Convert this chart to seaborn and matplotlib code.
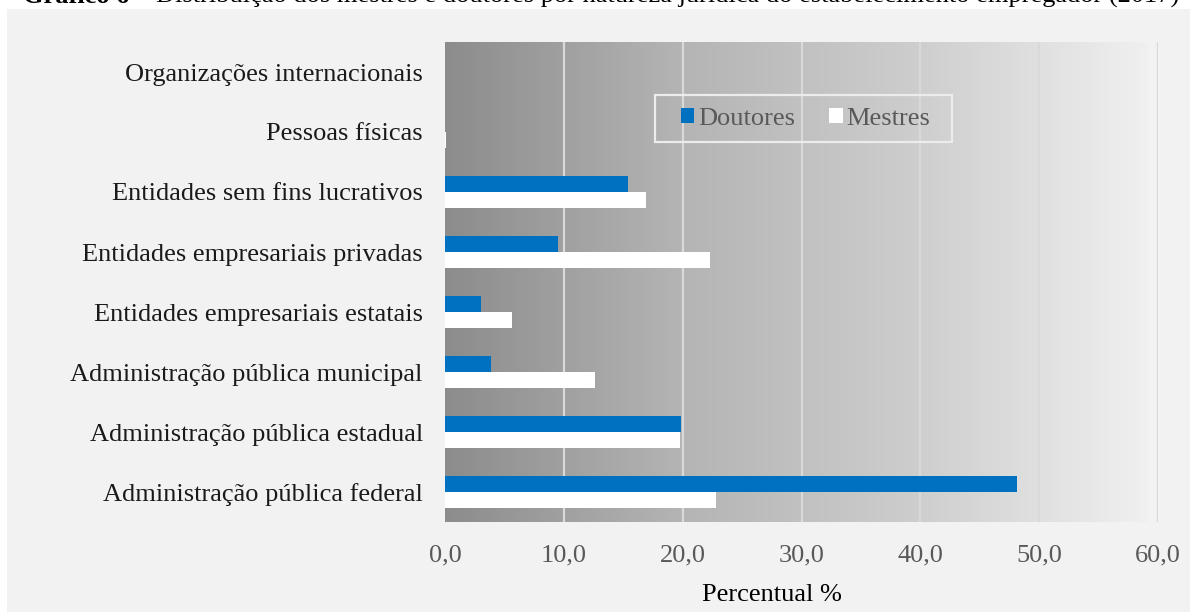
import numpy as np
import pandas as pd
import matplotlib
matplotlib.use("Agg")
import matplotlib.pyplot as plt
import seaborn as sns
from matplotlib.patches import Rectangle

# dados (percentual %)
categorias = [
    "Organizações internacionais",
    "Pessoas físicas",
    "Entidades sem fins lucrativos",
    "Entidades empresariais privadas",
    "Entidades empresariais estatais",
    "Administração pública municipal",
    "Administração pública estadual",
    "Administração pública federal",
]
doutores = [0.0, 0.0, 15.4, 9.5, 3.0, 3.9, 19.9, 48.1]
mestres = [0.0, 0.1, 16.9, 22.3, 5.6, 12.6, 19.8, 22.8]
grupos = ["Doutores", "Mestres"]
xticks = [0, 10, 20, 30, 40, 50, 60]

df = pd.DataFrame({
    "categoria": categorias * 2,
    "grupo": [grupos[0]] * len(categorias) + [grupos[1]] * len(categorias),
    "valor": doutores + mestres,
})

sns.set_style("white")
plt.rcParams["font.family"] = ["Liberation Serif", "DejaVu Serif"]

fig = plt.figure(figsize=(11.9, 6.12), dpi=100, facecolor="white")
W, H = 1190, 612

# painel cinza de fundo
fig.patches.append(Rectangle((7 / W, 0), 1 - 7 / W, 1 - 9 / H, transform=fig.transFigure,
                             facecolor="#f2f2f2", edgecolor="none", zorder=-10))

ax = fig.add_axes([445 / W, 1 - 522 / H, (1158 - 445) / W, (522 - 42) / H])
ax.set_facecolor("none")

# gradiente horizontal
grad = np.linspace(0, 1, 256).reshape(1, -1)
cmap = matplotlib.colors.LinearSegmentedColormap.from_list("g", ["#8c8c8c", "#b4b4b4", "#cdcdcd", "#f0f0f0"])
ax.imshow(grad, extent=[0, 0.985, 0, 1], transform=ax.transAxes, aspect="auto",
          cmap=cmap, zorder=0)

sns.barplot(data=df, y="categoria", x="valor", hue="grupo", orient="h",
            order=categorias, hue_order=grupos,
            palette={"Doutores": "#0070c0", "Mestres": "#ffffff"}, saturation=1,
            width=0.54, gap=0, linewidth=0, ax=ax, zorder=3)

ax.set_xlim(0, 60)
ax.set_ylim(7.5, -0.5)
ax.set_xticks(xticks)
ax.set_xticklabels([f"{v:.1f}".replace(".", ",") for v in xticks])
for v in xticks[1:]:
    ax.axvline(v, color="#d9d9d9", linewidth=1.6, zorder=1)

for s in ax.spines.values():
    s.set_visible(False)
ax.tick_params(axis="x", length=0, pad=16, labelsize=19, labelcolor="#595959")
ax.tick_params(axis="y", length=0, pad=16, labelsize=19, labelcolor="#1a1a1a")
ax.set_ylabel("")
ax.set_xlabel("Percentual %", fontsize=19, color="#000000")
ax.xaxis.set_label_coords(0.459, -0.13)

# legenda
handles, labels = ax.get_legend_handles_labels()
ax.legend(handles, labels, loc="center", bbox_to_anchor=(0.506, 0.8406), ncol=2,
          frameon=False, fontsize=19, labelcolor="#595959",
          handlelength=0.5, handleheight=0.5, handletextpad=0.15, columnspacing=1.3)
ax.add_patch(Rectangle((0.2945, 0.7917), 0.4166, 0.0979, transform=ax.transAxes,
                       facecolor="none", edgecolor="#ececec", linewidth=1.6, zorder=4))

# título (cortado no topo, como na referência)
t1 = fig.text(23 / W, 1 - 3 / H, "Gráfico 6 – ", fontsize=19, fontweight="bold",
              va="baseline", ha="left", color="#000000")
fig.canvas.draw()
bb = t1.get_window_extent()
fig.text(bb.x1 / W, 1 - 3 / H,
         "Distribuição dos mestres e doutores por natureza jurídica do estabelecimento empregador (2017)",
         fontsize=19, va="baseline", ha="left", color="#000000")

fig.savefig("out.png", dpi=100, facecolor="white")
